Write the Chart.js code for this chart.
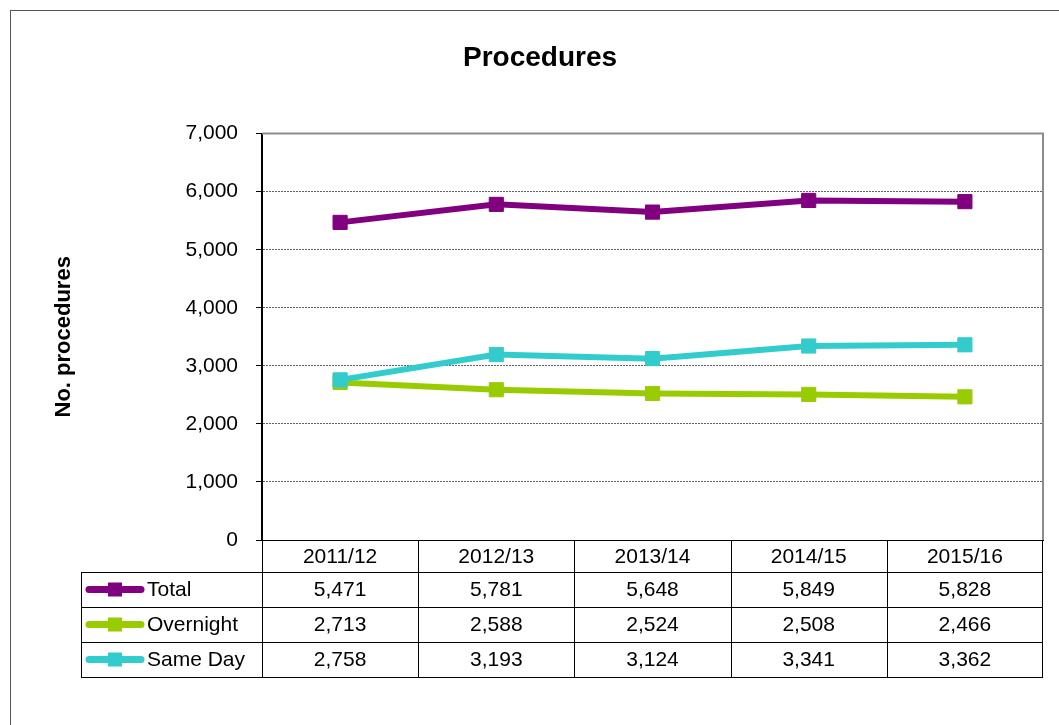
<!DOCTYPE html>
<html>
<head>
<meta charset="utf-8">
<script src="https://cdn.jsdelivr.net/npm/chart.js@4.4.1/dist/chart.umd.min.js"></script>
<style>
  body { margin: 0; background: #fff; }
  #wrap { position: relative; width: 1059px; height: 725px; overflow: hidden; }
  #frame { position: absolute; left: 10px; top: 10px; width: 1100px; height: 800px; border: 1px solid #555; }
  canvas { position: absolute; left: 0; top: 0; }
</style>
</head>
<body>
<div id="wrap">
  <div id="frame"></div>
  <canvas id="myChart" width="1059" height="725"></canvas>
</div>
<script>
var categories = ['2011/12', '2012/13', '2013/14', '2014/15', '2015/16'];
var total = [5471, 5781, 5648, 5849, 5828];
var overnight = [2713, 2588, 2524, 2508, 2466];
var sameDay = [2758, 3193, 3124, 3341, 3362];
var seriesNames = ['Total', 'Overnight', 'Same Day'];
var seriesColors = ['#800080', '#99CC00', '#33CCCC'];
var yMax = 7000;
var yStep = 1000;

var FONT = "'Liberation Sans', Arial, sans-serif";
var fmt = function (v) { return v.toLocaleString('en-US'); };

// data table under the plot, drawn against the x scale columns
var dataTable = {
  id: 'dataTable',
  afterDraw: function (chart) {
    var ctx = chart.ctx;
    var x = chart.scales.x;
    var area = chart.chartArea;
    var half = (x.getPixelForValue(1) - x.getPixelForValue(0)) / 2;
    var tableLeft = 81;
    var headTop = area.bottom;
    var headH = 32, rowH = 35;
    var rows = [total, overnight, sameDay];
    var bottom = headTop + headH + rowH * rows.length;

    ctx.save();
    // plot frame top / right
    ctx.strokeStyle = '#8c8c8c';
    ctx.lineWidth = 2;
    ctx.beginPath();
    ctx.moveTo(area.left, area.top);
    ctx.lineTo(area.right, area.top);
    ctx.lineTo(area.right, area.bottom);
    ctx.stroke();

    ctx.strokeStyle = '#000';
    ctx.lineWidth = 1;
    ctx.beginPath();
    for (var i = 0; i <= categories.length; i++) {
      var bx = Math.round(x.getPixelForValue(0) - half + i * 2 * half) + 0.5;
      if (i === categories.length) bx = Math.round(area.right) - 0.5;
      ctx.moveTo(bx, headTop);
      ctx.lineTo(bx, bottom);
    }
    ctx.moveTo(tableLeft + 0.5, headTop + headH);
    ctx.lineTo(tableLeft + 0.5, bottom);
    for (var r = 0; r <= rows.length; r++) {
      var ly = headTop + headH + r * rowH + 0.5;
      ctx.moveTo(tableLeft, ly);
      ctx.lineTo(area.right, ly);
    }
    ctx.stroke();

    ctx.fillStyle = '#000';
    ctx.font = '21px ' + FONT;
    ctx.textAlign = 'center';
    ctx.textBaseline = 'middle';
    categories.forEach(function (c, i) {
      ctx.fillText(c, x.getPixelForValue(i), headTop + headH / 2 + 1);
    });
    rows.forEach(function (vals, r) {
      var cy = headTop + headH + r * rowH + rowH / 2 + 1;
      vals.forEach(function (v, i) {
        ctx.fillText(fmt(v), x.getPixelForValue(i), cy);
      });
      // legend key
      ctx.strokeStyle = seriesColors[r];
      ctx.lineWidth = 7;
      ctx.lineCap = 'round';
      ctx.beginPath();
      ctx.moveTo(89, cy - 1);
      ctx.lineTo(141, cy - 1);
      ctx.stroke();
      ctx.fillStyle = seriesColors[r];
      ctx.fillRect(108, cy - 8, 14, 14);
      ctx.fillStyle = '#000';
      ctx.textAlign = 'left';
      ctx.fillText(seriesNames[r], 147, cy);
      ctx.textAlign = 'center';
    });
    ctx.restore();
  }
};

function ds(label, data, color, order) {
  return {
    label: label,
    data: data,
    borderColor: color,
    backgroundColor: color,
    borderWidth: 6,
    pointStyle: 'rect',
    pointRadius: 10,
    pointBorderWidth: 1,
    pointBorderColor: color,
    pointBackgroundColor: color,
    tension: 0,
    order: order
  };
}

var ctx = document.getElementById('myChart').getContext('2d');
var myChart = new Chart(ctx, {
  type: 'line',
  data: {
    labels: categories,
    datasets: [
      ds(seriesNames[0], total, seriesColors[0], 0),
      ds(seriesNames[1], overnight, seriesColors[1], 2),
      ds(seriesNames[2], sameDay, seriesColors[2], 1)
    ]
  },
  plugins: [dataTable],
  options: {
    responsive: false,
    animation: false,
    devicePixelRatio: 1,
    layout: { padding: { left: 37, right: 16, top: 41, bottom: 0 } },
    plugins: {
      legend: { display: false },
      tooltip: { enabled: false },
      title: {
        display: true,
        text: 'Procedures',
        color: '#000',
        font: { family: FONT, size: 28, weight: 'bold' },
        padding: { top: 0, bottom: 59 }
      }
    },
    scales: {
      x: {
        type: 'category',
        offset: true,
        grid: { display: false },
        ticks: { display: false },
        border: { display: true, color: '#000', width: 1 },
        afterFit: function (s) { s.height = 185; }
      },
      y: {
        min: 0,
        max: yMax,
        ticks: {
          stepSize: yStep,
          color: '#000',
          padding: 18,
          font: { family: FONT, size: 21 },
          callback: function (v) { return fmt(v); }
        },
        grid: {
          color: '#606060',
          lineWidth: 1,
          tickLength: 6,
          tickColor: '#000',
          tickBorderDash: []
        },
        border: { display: true, color: '#000', width: 2, dash: [2, 1] },
        title: {
          display: true,
          text: 'No. procedures',
          color: '#000',
          font: { family: FONT, size: 22, weight: 'bold' },
          padding: { top: 14, bottom: 4 }
        },
        afterFit: function (s) { s.width = 262 - 37; }
      }
    }
  }
});
</script>
</body>
</html>
